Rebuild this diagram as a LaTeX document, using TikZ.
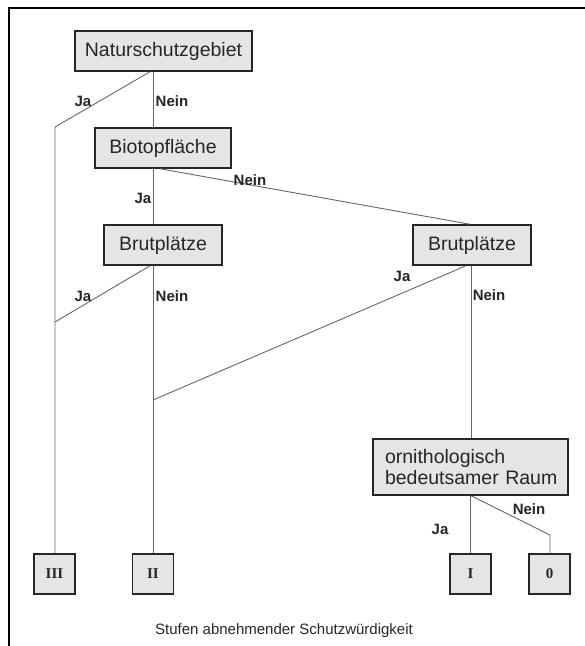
\documentclass[tikz,border=0pt]{standalone}
\usepackage{fontspec}
\setmainfont{Liberation Sans}
\newfontfamily\numfont{Liberation Serif}
\begin{document}
\begin{tikzpicture}[x=1pt,y=-1pt,
  box/.style={draw=black!85, line width=1.5pt, fill=gray!20, inner sep=0pt,
    text=black!85, font=\fontsize{19.5}{21}\selectfont},
  numbox/.style={box, minimum width=41pt, minimum height=40pt,
    font=\numfont\bfseries\fontsize{15}{16}\selectfont},
  conn/.style={draw=black!60, line width=0.9pt},
  lab/.style={font=\bfseries\fontsize{15}{17}\selectfont, text=black!85, inner sep=0pt},
  frame/.style={draw=black, line width=1.3pt}]
\useasboundingbox (0,0) rectangle (585,646);
\draw[frame] (9,646) -- (9,8) -- (585,8);

% boxes
\node[box, minimum width=177pt, minimum height=40pt] (ns) at (163.5,51) {Naturschutzgebiet};
\node[box, minimum width=136pt, minimum height=40pt] (bio) at (163,148) {Biotopfläche};
\node[box, minimum width=118pt, minimum height=40pt] (bl) at (163,245) {Brutplätze};
\node[box, minimum width=118pt, minimum height=40pt] (br) at (472,245) {Brutplätze};
\node[box, minimum width=195pt, minimum height=56pt, text width=177pt, align=left, inner xsep=9pt] (orn) at (470.5,467) {\hspace*{3pt}ornithologisch\\\hspace*{3pt}bedeutsamer Raum};
\node[numbox] (n3) at (54.5,574) {III};
\node[numbox] (n2) at (153,574) {II};
\node[numbox] (n1) at (470.5,574) {I};
\node[numbox] (n0) at (549.5,574) {0};

% junction coordinates
\coordinate (jA) at (55,127);
\coordinate (jB) at (55,322);
\coordinate (jC) at (153,400);
\coordinate (jD) at (550,535);

% connectors
\draw[conn] (ns.south -| 153,0) -- (bio.north -| 153,0);
\draw[conn] (ns.south -| 150,0) -- (jA) -- (n3.north -| jA);
\draw[conn] (bio.south -| 153,0) -- (bl.north -| 153,0);
\draw[conn] (bio.south -| 160,0) -- (br.north -| 470,0);
\draw[conn] (bl.south -| 150,0) -- (jB);
\draw[conn] (bl.south -| 153,0) -- (n2.north);
\draw[conn] (br.south -| 466,0) -- (jC);
\draw[conn] (br.south -| 471,0) -- (orn.north -| 471,0);
\draw[conn] (orn.south -| 470.5,0) -- (n1.north);
\draw[conn] (orn.south -| 471,0) -- (jD) -- (n0.north -| jD);

% labels
\node[lab] (l1) at (83,101) {Ja};
\node[lab] (l2) at (172,101) {Nein};
\node[lab] (l3) at (143,198) {Ja};
\node[lab] (l4) at (250,180) {Nein};
\node[lab] (l5) at (83,296) {Ja};
\node[lab] (l6) at (172,296) {Nein};
\node[lab] (l7) at (402,276) {Ja};
\node[lab] (l8) at (489,295) {Nein};
\node[lab] (l9) at (529,509) {Nein};
\node[lab] (l10) at (440,529) {Ja};

\node[font=\fontsize{15}{17}\selectfont, text=black!85, inner sep=0pt] (cap) at (284,631) {Stufen abnehmender Schutzwürdigkeit};
\end{tikzpicture}
\end{document}
